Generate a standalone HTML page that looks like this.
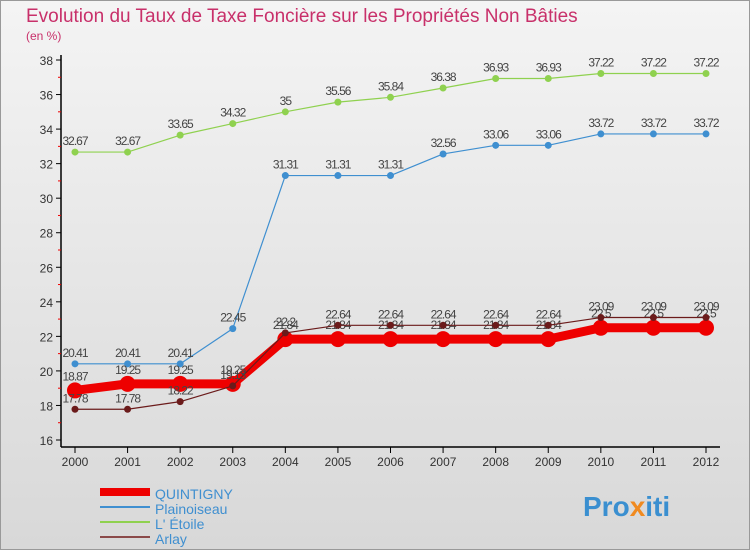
<!DOCTYPE html>
<html><head><meta charset="utf-8"><style>
body{margin:0;width:750px;height:550px;overflow:hidden;font-family:"Liberation Sans",sans-serif}
#bg{position:absolute;left:0;top:0;width:748px;height:548px;border:1px solid #999;background:linear-gradient(#f4f4f4,#d8d8d8)}
</style></head><body>
<div id="bg"></div>
<svg id="c" width="750" height="550" style="position:absolute;left:0;top:0">
<text x="26" y="22" font-size="19" fill="#c8306a">Evolution du Taux de Taxe Foncière sur les Propriétés Non Bâties</text>
<text x="26" y="40" font-size="12" fill="#c8306a">(en %)</text>
<g id="axes"></g><g id="series"></g><g id="legend"></g>
<text x="583" y="516" font-size="28" font-weight="bold" fill="#3a8fd0">Pro<tspan fill="#f08a20">x</tspan>iti</text>
</svg>
<script>
const years=[2000,2001,2002,2003,2004,2005,2006,2007,2008,2009,2010,2011,2012];
const yTicks=[16,18,20,22,24,26,28,30,32,34,36,38];
const quintigny=[18.87,19.25,19.25,19.25,21.84,21.84,21.84,21.84,21.84,21.84,22.5,22.5,22.5];
const plainoiseau=[20.41,20.41,20.41,22.45,31.31,31.31,31.31,32.56,33.06,33.06,33.72,33.72,33.72];
const etoile=[32.67,32.67,33.65,34.32,35,35.56,35.84,36.38,36.93,36.93,37.22,37.22,37.22];
const arlay=[17.78,17.78,18.22,19.13,22.2,22.64,22.64,22.64,22.64,22.64,23.09,23.09,23.09];
const NS='http://www.w3.org/2000/svg';
const X=i=>75+i*(706-75)/(years.length-1);
const Y=v=>440-(v-16)*(440-60)/22;
function mk(t,a,p){const e=document.createElementNS(NS,t);for(const k in a)e.setAttribute(k,a[k]);p.appendChild(e);return e;}
const ax=document.getElementById('axes');
let l=mk('line',{x1:61,y1:55,x2:61,y2:447,stroke:'#000','stroke-width':1.5},ax);


l=mk('line',{x1:61,y1:447,x2:720,y2:447,stroke:'#000','stroke-width':1.5},ax);


yTicks.forEach(v=>{
 mk('line',{x1:56,y1:Y(v),x2:61,y2:Y(v),stroke:'#000'},ax);
 if(v<38)mk('line',{x1:58,y1:Y(v+1),x2:61,y2:Y(v+1),stroke:'#e00'},ax);
 const t=mk('text',{x:53,y:Y(v)+5,'font-size':12,'text-anchor':'end',fill:'#333'},ax);t.textContent=v;
 
 
});
years.forEach((yr,i)=>{
 mk('line',{x1:X(i),y1:447,x2:X(i),y2:453,stroke:'#000'},ax);
 const t=mk('text',{x:X(i),y:466,'font-size':12,'text-anchor':'middle',fill:'#333'},ax);t.textContent=yr;
 
 
});
const sg=document.getElementById('series');
function series(d,col,w,r,name,lblOff){
 const g=mk('g',{},sg);
 
 
 mk('polyline',{points:d.map((v,i)=>X(i)+','+Y(v)).join(' '),fill:'none',stroke:col,'stroke-width':w,'stroke-linejoin':'round'},g);
 d.forEach((v,i)=>{
  const c=mk('circle',{cx:X(i),cy:Y(v),r:r,fill:col},g);
  
  
  const t=mk('text',{x:X(i),y:Y(v)+lblOff,'font-size':12,'text-anchor':'middle',fill:'#444','letter-spacing':'-1'},g);
  t.textContent=String(v);
 });
}
series(etoile,'#8fd14f',1.2,3.5,'series-l-etoile',-7);
series(plainoiseau,'#3f8fd0',1.2,3.5,'series-plainoiseau',-7);
series(quintigny,'#ee0000',9,8,'series-quintigny',-10);
series(arlay,'#6b1b1b',1.2,3.5,'series-arlay',-7);
const lg=document.getElementById('legend');
[['QUINTIGNY','#ee0000',8],['Plainoiseau','#3f8fd0',2],["L' Étoile",'#8fd14f',2],['Arlay','#8b4a4a',2]].forEach((e,i)=>{
 const y=492+i*15;
 const g=mk('g',{},lg);
 
 
 mk('line',{x1:100,y1:y,x2:150,y2:y,stroke:e[1],'stroke-width':e[2]},g);
 const t=mk('text',{x:155,y:y+7,'font-size':14,fill:'#3f8fd0'},g);t.textContent=e[0];
});
</script>
</body></html>
